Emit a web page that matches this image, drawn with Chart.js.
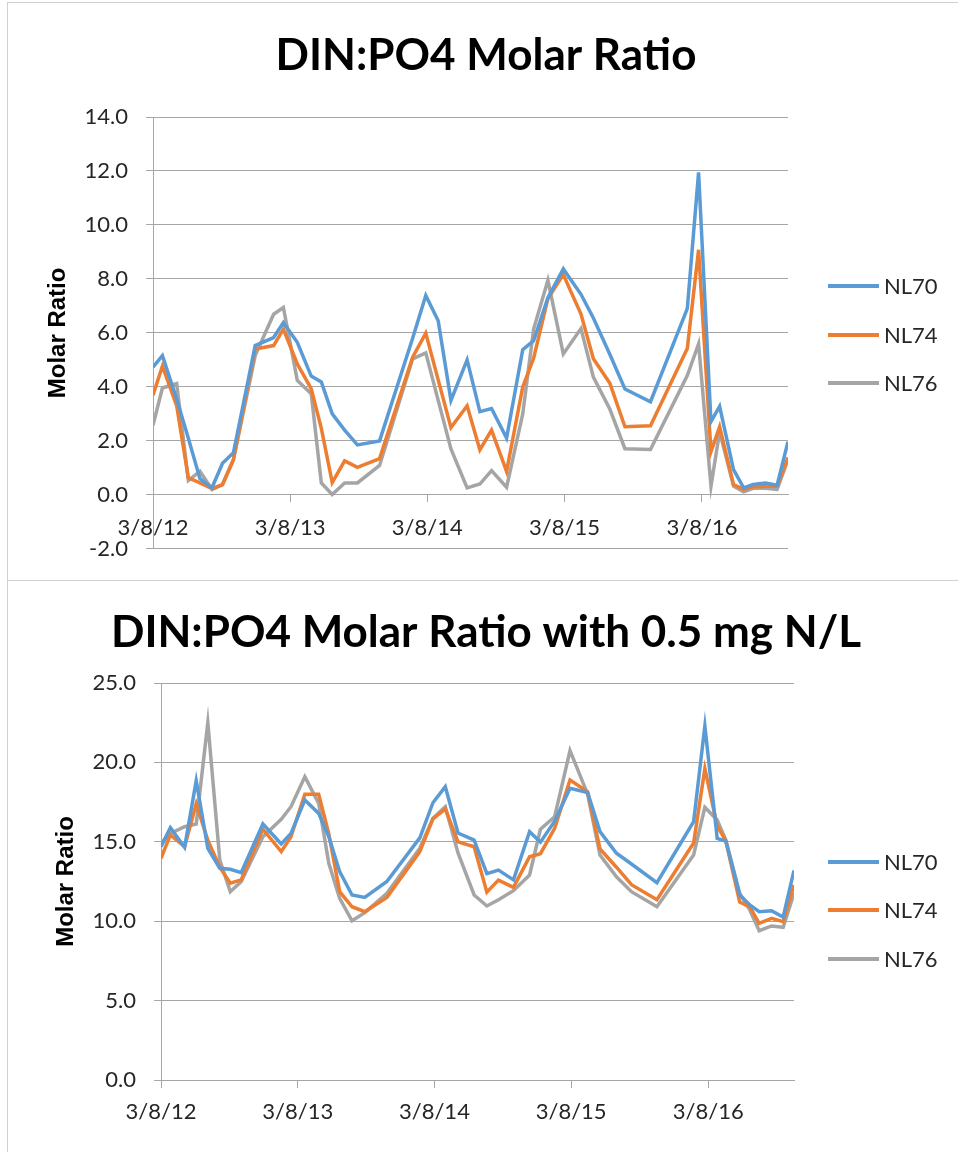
<!DOCTYPE html>
<html><head><meta charset="utf-8">
<script src="https://cdn.jsdelivr.net/npm/chart.js@4.4.1/dist/chart.umd.min.js"></script>
<style>
html,body{margin:0;padding:0;background:#fff;}
body{width:958px;height:1152px;position:relative;overflow:hidden;}
canvas{position:absolute;left:0;}
#c1{top:0;} #c2{top:580px;}
.frame{position:absolute;border:1px solid #d0d0d0;box-sizing:border-box;pointer-events:none;}
</style></head><body>
<canvas id="c1" width="958" height="580"></canvas>
<canvas id="c2" width="958" height="572"></canvas>
<div class="frame" style="left:7px;top:2px;width:960px;height:579px"></div>
<div class="frame" style="left:7px;top:580px;width:960px;height:590px"></div>
<script>
// ---- data ----
const sampleDates = ['2012-03-08','2012-04-02','2012-05-10','2012-06-10','2012-07-11','2012-08-12','2012-09-09','2012-10-08','2012-12-05',
 '2013-01-23','2013-02-18','2013-03-27','2013-05-03','2013-05-30','2013-06-28','2013-07-31','2013-09-03','2013-11-01',
 '2014-01-28','2014-03-04','2014-04-06','2014-05-10','2014-06-22','2014-07-26','2014-08-26','2014-10-05','2014-11-17','2014-12-16',
 '2015-01-23','2015-03-05','2015-04-21','2015-05-24','2015-07-07','2015-08-16','2015-10-23',
 '2016-01-29','2016-02-28','2016-04-01','2016-04-24','2016-05-31','2016-06-27','2016-07-22','2016-08-24','2016-09-24','2016-10-23'];
const seriesNames = ['NL70','NL74','NL76'];
const ratioNL70 = [4.73,5.16,3.55,2.1,0.6,0.26,1.17,1.56,5.53,5.83,6.38,5.65,4.4,4.18,3.0,2.4,1.85,2.0,5.8,7.39,6.45,3.5,5.0,3.08,3.2,2.1,5.38,5.71,7.3,8.37,7.43,6.55,5.2,3.92,3.45,6.9,11.95,2.71,3.28,0.93,0.26,0.38,0.44,0.36,1.97];
const ratioNL74 = [3.69,4.77,3.3,0.63,0.44,0.23,0.38,1.3,5.4,5.53,6.14,4.85,3.93,2.46,0.45,1.26,1.02,1.34,5.1,5.99,4.26,2.49,3.3,1.67,2.4,0.87,4.0,5.06,7.27,8.16,6.7,5.04,4.13,2.52,2.56,5.42,9.08,1.6,2.52,0.38,0.2,0.3,0.32,0.32,1.39];
const ratioNL76 = [2.58,3.96,4.12,0.53,0.87,0.2,0.38,1.3,5.16,6.69,6.94,4.24,3.75,0.44,0.01,0.44,0.44,1.09,5.04,5.26,3.5,1.7,0.26,0.4,0.9,0.28,3.0,6.14,7.95,5.22,6.16,4.36,3.17,1.71,1.68,4.42,5.59,0.32,2.34,0.32,0.11,0.24,0.24,0.2,1.3];
const ratioN05NL70 = [14.69,15.89,14.65,18.85,14.59,13.33,13.27,13.06,16.12,14.86,15.53,17.63,16.79,15.32,13.12,11.65,11.5,12.5,15.25,17.46,18.47,15.55,15.11,13.0,13.22,12.6,15.64,14.98,16.3,18.37,18.1,15.64,14.28,13.6,12.43,16.27,22.29,15.22,15.05,11.65,11.02,10.6,10.66,10.26,13.2];
const ratioN05NL74 = [13.96,15.43,14.69,17.4,15.1,13.4,12.39,12.6,15.79,14.38,15.32,17.99,17.99,15.5,11.86,10.91,10.6,11.5,14.38,16.45,17.08,15.0,14.69,11.83,12.59,12.13,14.06,14.25,15.85,18.89,18.15,14.55,13.4,12.3,11.35,14.92,19.6,16.0,15.05,11.2,10.9,9.87,10.18,9.97,12.28];
const ratioN05NL76 = [14.9,15.53,15.95,16.12,22.5,13.85,11.86,12.49,15.32,16.42,17.21,19.1,17.42,13.65,11.44,10.03,10.54,11.76,14.59,16.48,17.21,14.3,11.65,10.96,11.35,11.92,12.91,15.79,16.58,20.74,18.0,14.17,12.8,11.86,10.91,14.17,17.17,16.37,15.11,11.76,10.71,9.4,9.7,9.62,11.76];
const tickDates = ['2012-03-08','2013-03-08','2014-03-08','2015-03-08','2016-03-08'];
const tickLabels = ['3/8/12','3/8/13','3/8/14','3/8/15','3/8/16'];
const titles = ['DIN:PO4 Molar Ratio','DIN:PO4 Molar Ratio with 0.5 mg N/L'];
const yTitle = 'Molar Ratio';
const seriesColors = ['#5b9bd5','#ed7d31','#a5a5a5'];

// ---- helpers ----
function dayNum(s){const p=s.split('-').map(Number);return Date.UTC(p[0],p[1]-1,p[2])/864e5;}
const tickDays = tickDates.map(dayNum);
const GRID = '#a6a6a6';
const TXT = '#262626';
const tickFont = {family:'Lato', size:22};

const legendPlugin = {
  id:'customLegend',
  afterDraw(chart, args, opts){
    const ctx = chart.ctx;
    ctx.save();
    chart.data.datasets.forEach((ds,i)=>{
      const y = opts.ys[i];
      ctx.strokeStyle = ds.borderColor; ctx.lineWidth = 4; ctx.lineCap='butt';
      ctx.beginPath(); ctx.moveTo(opts.x1,y); ctx.lineTo(opts.x2,y); ctx.stroke();
      ctx.fillStyle = TXT; ctx.font = '22px Lato'; ctx.textBaseline='middle'; ctx.textAlign='left';
      ctx.fillText(ds.label, opts.x2+5, y+1);
    });
    ctx.restore();
  }
};

function build(id, title, seriesList, yMin, yMax, yStep, yWidth, rightWidth, pad, titlePad, yTitlePad, xTickPad, legendYs){
  new Chart(document.getElementById(id), {
    type:'line',
    data:{datasets: seriesList.map((vals,i)=>({
      label: seriesNames[i],
      data: sampleDates.map((d,k)=>({x:dayNum(d), y:vals[k]})),
      borderColor: seriesColors[i], backgroundColor: seriesColors[i],
      borderWidth:3.5, pointRadius:0, tension:0, fill:false
    }))},
    options:{
      responsive:false, animation:false, devicePixelRatio:1,
      layout:{padding:pad},
      plugins:{
        legend:{display:false}, tooltip:{enabled:false},
        title:{display:true, text:title, color:'#000', font:{family:'Lato', size:44, weight:'bold', lineHeight:1.2}, padding:titlePad},
        customLegend:{x1:828, x2:879, ys:legendYs}
      },
      scales:{
        x:{type:'linear', position:{y:0},
          min: dayNum(sampleDates[0]), max: dayNum(sampleDates[sampleDates.length-1]),
          afterBuildTicks: s=>{ s.ticks = tickDays.map(v=>({value:v})); },
          ticks:{autoSkip:false, maxRotation:0, minRotation:0, padding:xTickPad, color:TXT, font:tickFont,
            callback:(v,i)=>tickLabels[i]},
          grid:{drawOnChartArea:false, drawTicks:true, tickLength:7, color:GRID, lineWidth:1},
          border:{display:true, color:GRID, width:1}
        },
        y:{position:'left', min:yMin, max:yMax,
          afterFit: s=>{ s.width = yWidth; },
          ticks:{stepSize:yStep, padding:18, color:TXT, font:tickFont, callback:v=>v.toFixed(1)},
          grid:{color:GRID, lineWidth:1, tickLength:7, drawTicks:true},
          border:{display:true, color:GRID, width:1},
          title:{display:true, text:yTitle, color:'#000', font:{family:'Liberation Sans', size:24, weight:'bold', lineHeight:1.2}, padding:{top:yTitlePad, bottom:0}}
        },
        legendSpace:{position:'right', display:true,
          afterFit: s=>{ s.width = rightWidth; },
          ticks:{display:false}, grid:{display:false, drawTicks:false}, border:{display:false}
        }
      }
    },
    plugins:[legendPlugin]
  });
}

build('c1', titles[0], [ratioNL70, ratioNL74, ratioNL76], -2, 14, 2, 139, 170,
  {left:14, right:0, top:0, bottom:29}, {top:29, bottom:35.2}, 30, 13, [286,335,383]);
build('c2', titles[1], [ratioN05NL70, ratioN05NL74, ratioN05NL76], 0, 25, 5, 147, 164,
  {left:14, right:0, top:0, bottom:72}, {top:26, bottom:24.2}, 38, 12, [282,330,379]);
</script>
</body></html>
